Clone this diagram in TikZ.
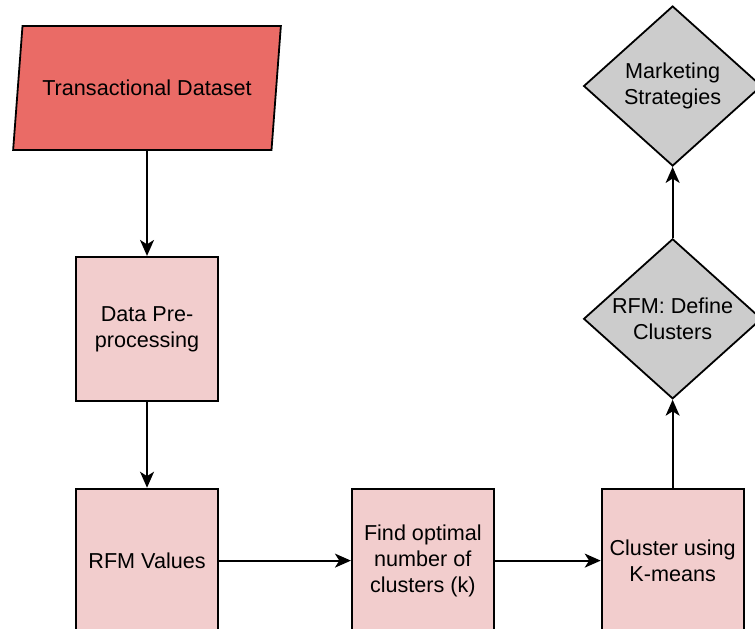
\documentclass[tikz,border=0pt]{standalone}
\usepackage{fontspec}
\setmainfont{Liberation Sans}
\usetikzlibrary{positioning,shapes.geometric,arrows.meta}

\definecolor{datared}{HTML}{EA6B66}
\definecolor{steppink}{HTML}{F2CDCD}
\definecolor{decgrey}{HTML}{CCCCCC}

\begin{document}
\begin{tikzpicture}[
    x=1pt, y=1pt,
    every node/.style={
        draw,
        line width=0.9pt,
        align=center,
        font=\fontsize{10.8}{13}\selectfont
    },
    process/.style={
        fill=steppink,
        minimum width=71pt,
        minimum height=72pt
    },
    dataio/.style={
        trapezium,
        trapezium left angle=74,
        trapezium right angle=106,
        trapezium stretches=true,
        fill=datared,
        minimum width=134pt,
        minimum height=62pt
    },
    decision/.style={
        diamond,
        aspect=1.11,
        inner sep=0pt,
        fill=decgrey,
        minimum width=89pt,
        minimum height=80pt
    },
    arrow/.style={-{Stealth[length=8pt,width=7pt,inset=2.2pt]}, line width=0.9pt}
]
\useasboundingbox (0,0) rectangle (377.5,-314);
\clip (0,0) rectangle (377.5,-314);

% Nodes
\node[dataio] (dataset) at (73.5,-44) {Transactional Dataset};
\node[process] (prep) [below=52.5pt of dataset] {Data Pre-\\processing};
\node[process] (rfm) [below=43pt of prep] {RFM Values};
\node[process] (optk) [right=66pt of rfm] {Find optimal\\number of\\clusters (k)};
\node[process] (kmeans) [right=53pt of optk] {Cluster using\\K-means};
\node[decision] (define) [above=44pt of kmeans] {RFM: Define\\Clusters};
\node[decision] (market) [above=35.5pt of define] {Marketing\\Strategies};

% Arrows
\draw[arrow] (dataset) -- (prep);
\draw[arrow] (prep) -- (rfm);
\draw[arrow] (rfm) -- (optk);
\draw[arrow] (optk) -- (kmeans);
\draw[arrow] (kmeans) -- (define);
\draw[arrow] (define) -- (market);

\end{tikzpicture}
\end{document}
